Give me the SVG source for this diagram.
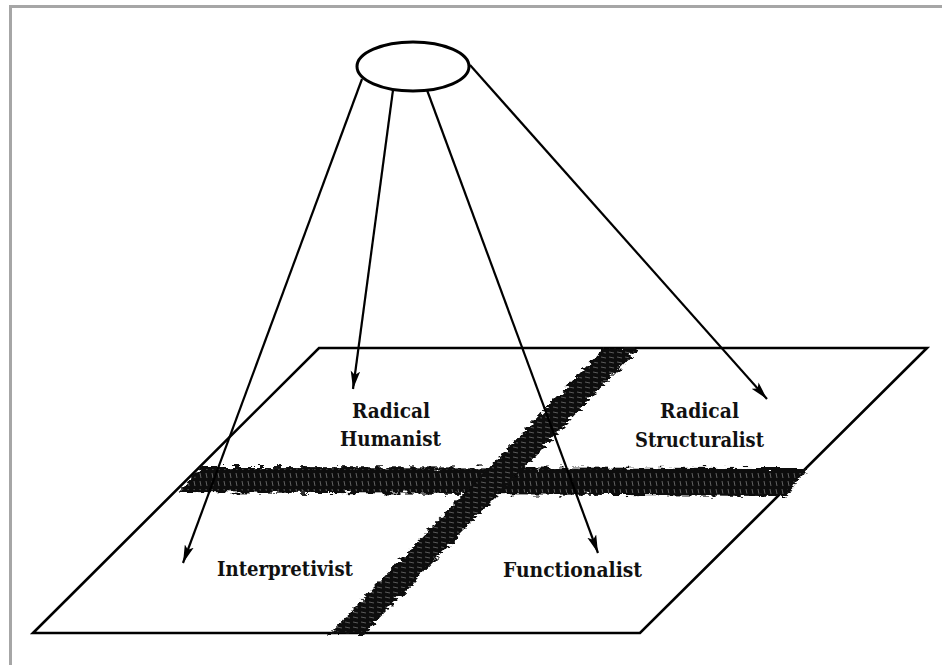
<svg xmlns="http://www.w3.org/2000/svg" width="951" height="665" viewBox="0 0 951 665">
<style>
.edge{fill:none;stroke:#000;stroke-width:2.6;stroke-linejoin:miter}
.arrow{fill:none;stroke:#000;stroke-width:2.2;marker-end:url(#ah)}
.lbl{font-family:"DejaVu Serif","Liberation Serif",serif;font-weight:bold;font-size:21px;fill:#111}
.band{fill:#0c0c0c;filter:url(#rough)}
.frame{fill:none;stroke:#a6a6a6;stroke-width:3}
</style>
<defs>
<marker id="ah" viewBox="0 0 18 10" refX="18" refY="5" markerWidth="18" markerHeight="10" markerUnits="userSpaceOnUse" orient="auto"><path d="M0,0.3 L18,5 L0,9.7 L4,5 z" fill="#000"/></marker>
<filter id="rough" x="-5%" y="-10%" width="110%" height="120%"><feTurbulence type="fractalNoise" baseFrequency="0.12 0.3" numOctaves="3" seed="3"/><feDisplacementMap in="SourceGraphic" scale="9" xChannelSelector="R" yChannelSelector="G"/></filter>
<pattern id="hatchH" width="6" height="8" patternUnits="userSpaceOnUse"><path d="M2,1 L3,6" stroke="#fff" stroke-width="0.7" opacity="0.5"/></pattern>
<pattern id="hatchD" width="8" height="5" patternUnits="userSpaceOnUse"><path d="M1,2 L6,3" stroke="#fff" stroke-width="0.7" opacity="0.45"/></pattern>
</defs>
<rect width="951" height="665" fill="#fff"/>
<path class="frame" d="M10.5,665 V6.5 H942"/>
<g id="plane">
<polygon class="edge" points="33,633 319,348 927,348 640,633"/>
</g>
<g id="bands">
<polygon class="band" points="180,492 201,467 808,468 786,496"/>
<polygon points="182,490 202,469 804,470 784,494" fill="url(#hatchH)"/>
<polygon class="band" points="604,348 639,348 364,634 329,634"/>
<polygon points="606,350 636,350 362,632 332,632" fill="url(#hatchD)"/>
</g>
<g id="source">
<ellipse cx="413" cy="66.5" rx="56" ry="24.5" fill="#fff" stroke="#000" stroke-width="3"/>
</g>
<g id="connectors">
<line class="arrow" x1="362" y1="79" x2="183" y2="563"/>
<line class="arrow" x1="393" y1="90" x2="353" y2="389"/>
<line class="arrow" x1="427" y1="90" x2="598" y2="553"/>
<line class="arrow" x1="470" y1="65" x2="767" y2="399"/>
</g>
<g id="radical-humanist">
<text class="lbl" x="352" y="418" textLength="78" lengthAdjust="spacingAndGlyphs">Radical</text>
<text class="lbl" x="340" y="446" textLength="101" lengthAdjust="spacingAndGlyphs">Humanist</text>
</g>
<g id="radical-structuralist">
<text class="lbl" x="660" y="418" textLength="79" lengthAdjust="spacingAndGlyphs">Radical</text>
<text class="lbl" x="635" y="447" textLength="129" lengthAdjust="spacingAndGlyphs">Structuralist</text>
</g>
<g id="interpretivist">
<text class="lbl" x="217" y="576" textLength="136" lengthAdjust="spacingAndGlyphs">Interpretivist</text>
</g>
<g id="functionalist">
<text class="lbl" x="503" y="577" textLength="139" lengthAdjust="spacingAndGlyphs">Functionalist</text>
</g>
</svg>
